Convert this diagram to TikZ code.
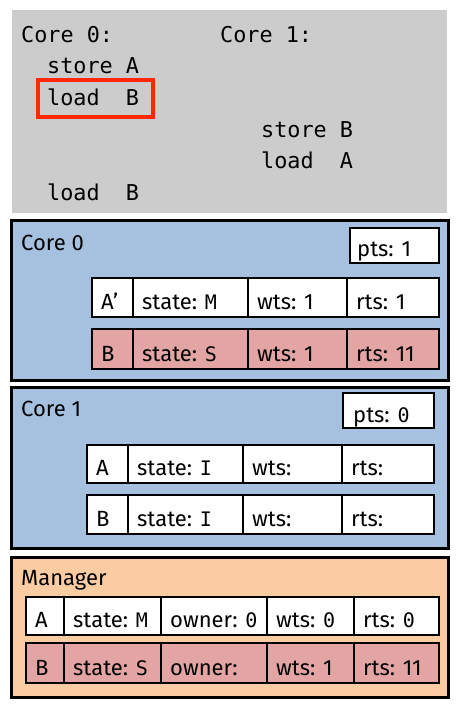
\documentclass[tikz,border=0pt]{standalone}
\usepackage{fontspec}
\setmainfont{Fira Sans}
\newfontfamily\monof{DejaVu Sans Mono}
\definecolor{topgray}{RGB}{204,204,204}
\definecolor{coreblue}{RGB}{166,193,223}
\definecolor{rowpink}{RGB}{226,165,164}
\definecolor{mgrorange}{RGB}{251,203,161}
\definecolor{hlred}{RGB}{255,40,0}
\newcommand\mm[1]{{\fontsize{20}{24}\monof #1}}
\newcommand\cell[7]{%
  \node[cellbox, fill=#6, minimum width={#4pt-#2pt}, minimum height={#5pt-#3pt}, anchor=north west] (#1) at (#2,#3) {};
  \node[celltxt, anchor=base west] (#1t) at (#2+9,#5-8) {#7};
}
\begin{document}
\begin{tikzpicture}[x=1pt,y=-1pt,
  cellbox/.style={draw=black, line width=2.8pt, inner sep=0pt, outer sep=0pt},
  celltxt/.style={inner sep=0pt, font=\fontsize{22}{26}\selectfont},
  outerbox/.style={draw=black, line width=3pt},
  codetxt/.style={inner sep=0pt, anchor=base west, font=\fontsize{21.8}{26}\monof},
  titletxt/.style={inner sep=0pt, anchor=base west, font=\fontsize{22}{26}\selectfont}]
\useasboundingbox (0,0) rectangle (460,710);
% program listing
\fill[topgray] (12,10) rectangle (447,213);
\node[codetxt] (c0h) at (21,42) {Core 0:};
\node[codetxt] (c1h) at (220,42) {Core 1:};
\node[codetxt] (s0a) at (47,73) {store A};
\node[codetxt] (l0b) at (47,105) {load\ \ B};
\node[draw=hlred, line width=4pt, inner sep=0pt, minimum width=115pt, minimum height=37pt, anchor=north west] (hl) at (36,78) {};
\node[codetxt] (s1b) at (261,137) {store B};
\node[codetxt] (l1a) at (261,168) {load\ \ A};
\node[codetxt] (l0b2) at (47,200) {load\ \ B};
% Core 0
\draw[outerbox, fill=coreblue] (11,220) rectangle (448,380);
\node[titletxt] (core0) at (21,250) {Core 0};
\node[cellbox, fill=white, minimum width=89pt, minimum height=35pt, anchor=north west] (p0) at (350,228) {};
\node[celltxt, anchor=base west] (p0t) at (357,256) {pts: 1};
\cell{a0n}{92}{278}{133}{317}{white}{A’}
\cell{a0s}{133}{278}{248}{317}{white}{state: \mm{M}}
\cell{a0w}{248}{278}{347}{317}{white}{wts: 1}
\cell{a0r}{347}{278}{439}{317}{white}{rts: 1}
\cell{b0n}{92}{329}{133}{369}{rowpink}{B}
\cell{b0s}{133}{329}{248}{369}{rowpink}{state: \mm{S}}
\cell{b0w}{248}{329}{347}{369}{rowpink}{wts: 1}
\cell{b0r}{347}{329}{439}{369}{rowpink}{rts: 11}
% Core 1
\draw[outerbox, fill=coreblue] (11,387) rectangle (448,548);
\node[titletxt] (core1) at (21,416) {Core 1};
\node[cellbox, fill=white, minimum width=91pt, minimum height=35pt, anchor=north west] (p1) at (343,393) {};
\node[celltxt, anchor=base west] (p1t) at (353,422) {pts: \mm{0}};
\cell{a1n}{87}{445}{128}{483}{white}{A}
\cell{a1s}{128}{445}{243}{483}{white}{state: \mm{I}}
\cell{a1w}{243}{445}{342}{483}{white}{wts:}
\cell{a1r}{342}{445}{434}{483}{white}{rts:}
\cell{b1n}{87}{495}{128}{534}{white}{B}
\cell{b1s}{128}{495}{243}{534}{white}{state: \mm{I}}
\cell{b1w}{243}{495}{342}{534}{white}{wts:}
\cell{b1r}{342}{495}{434}{534}{white}{rts:}
% Manager
\draw[outerbox, fill=mgrorange] (11,557) rectangle (448,697);
\node[titletxt] (mgr) at (21,585) {Manager};
\cell{amn}{26}{597}{64}{635}{white}{A}
\cell{ams}{64}{597}{161}{635}{white}{state: \mm{M}}
\cell{amo}{161}{597}{267}{635}{white}{owner: \mm{0}}
\cell{amw}{267}{597}{354}{635}{white}{wts: \mm{0}}
\cell{amr}{354}{597}{439}{635}{white}{rts: \mm{0}}
\cell{bmn}{26}{643}{64}{683}{rowpink}{B}
\cell{bms}{64}{643}{161}{683}{rowpink}{state: \mm{S}}
\cell{bmo}{161}{643}{267}{683}{rowpink}{owner:}
\cell{bmw}{267}{643}{354}{683}{rowpink}{wts: 1}
\cell{bmr}{354}{643}{439}{683}{rowpink}{rts: 11}
\end{tikzpicture}
\end{document}
